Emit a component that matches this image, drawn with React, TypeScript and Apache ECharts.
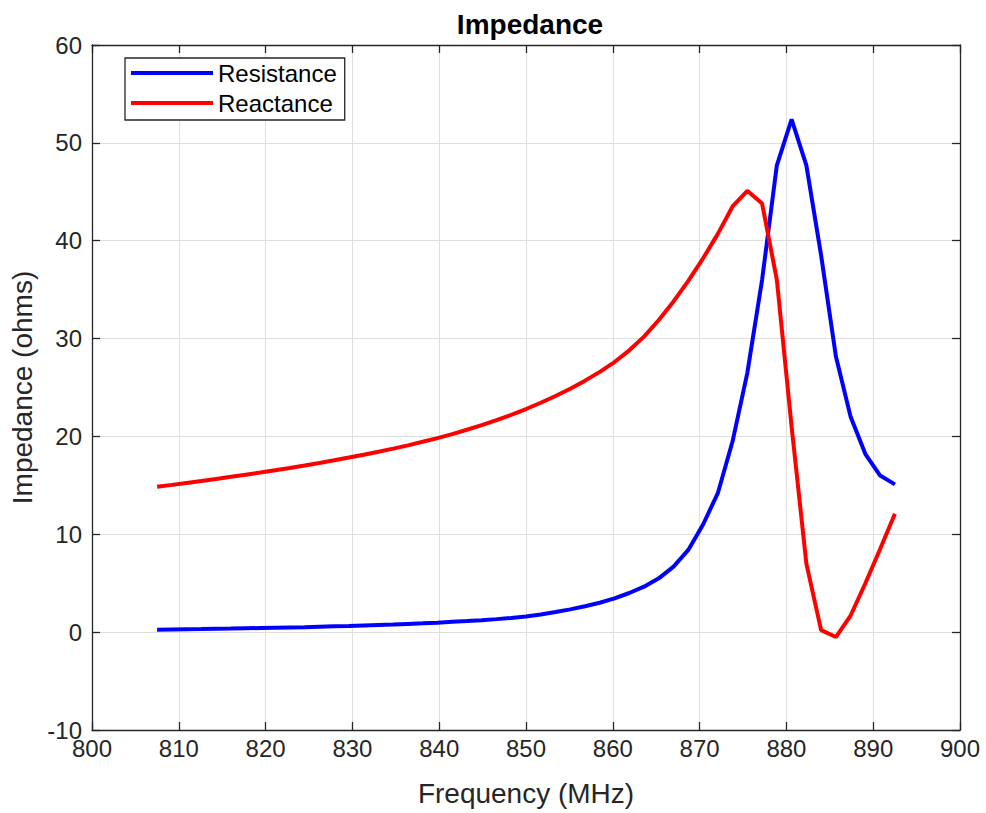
import React, { useEffect, useRef } from "react";
import * as echarts from "echarts";

const frequency = [
  807.5, 809.2, 810.9, 812.6, 814.3, 816.0, 817.7, 819.4, 821.1, 822.8,
  824.5, 826.2, 827.9, 829.6, 831.3, 833.0, 834.7, 836.4, 838.1, 839.8,
  841.5, 843.2, 844.9, 846.6, 848.3, 850.0, 851.7, 853.4, 855.1, 856.8,
  858.5, 860.2, 861.9, 863.6, 865.3, 867.0, 868.7, 870.4, 872.1, 873.8,
  875.5, 877.2, 878.9, 880.6, 882.3, 884.0, 885.7, 887.4, 889.1, 890.8,
  892.5,
];

const resistance = [
  0.25, 0.27, 0.29, 0.31, 0.34, 0.36, 0.39, 0.42, 0.45, 0.48,
  0.51, 0.55, 0.59, 0.63, 0.68, 0.73, 0.78, 0.84, 0.9, 0.97,
  1.05, 1.13, 1.22, 1.33, 1.45, 1.6, 1.8, 2.05, 2.33, 2.65,
  3.0, 3.45, 4.0, 4.65, 5.5, 6.7, 8.4, 11.0, 14.2, 19.5,
  26.5, 36.0, 47.7, 52.4, 47.7, 38.5, 28.2, 22.0, 18.2, 16.0,
  15.1,
];

const reactance = [
  14.86, 15.05, 15.25, 15.45, 15.66, 15.87, 16.09, 16.31, 16.54, 16.78,
  17.03, 17.29, 17.56, 17.84, 18.13, 18.43, 18.75, 19.09, 19.45, 19.83,
  20.24, 20.68, 21.15, 21.66, 22.21, 22.8, 23.44, 24.13, 24.88, 25.7,
  26.6, 27.6, 28.8, 30.2, 31.9, 33.8, 35.9, 38.2, 40.7, 43.5,
  45.1, 43.8, 36.0, 21.0, 7.0, 0.2, -0.5, 1.7, 5.0, 8.5,
  12.1,
];

const seriesNames = ["Resistance", "Reactance"];
const xTicks = { min: 800, max: 900, interval: 10 };
const yTicks = { min: -10, max: 60, interval: 10 };

const FONT = "'Liberation Sans', Arial, Helvetica, sans-serif";
const INK = "#262626";

export default function App() {
  const ref = useRef<HTMLDivElement>(null);

  useEffect(() => {
    if (!ref.current) return;
    const chart = echarts.init(ref.current, undefined, { renderer: "svg" });

    const axisCommon = {
      axisLine: { show: true, onZero: false, lineStyle: { color: INK, width: 1.3 } },
      axisTick: { show: true, inside: true, length: 8, lineStyle: { color: INK, width: 1.3 } },
    };

    chart.setOption({
      animation: false,
      backgroundColor: "#ffffff",
      title: {
        text: "Impedance",
        left: 525,
        top: 5,
        textAlign: "center",
        textStyle: { fontFamily: FONT, fontSize: 28, fontWeight: "bold", color: "#000000" },
      },
      grid: { left: 92, right: 26, top: 45, bottom: 83, containLabel: false },
      legend: {
        data: seriesNames,
        orient: "vertical",
        left: 125,
        top: 58,
        padding: [0, 8, 2, 6],
        itemGap: 0,
        itemWidth: 82,
        itemHeight: 4,
        icon: "rect",
        borderColor: INK,
        borderWidth: 1.3,
        backgroundColor: "#ffffff",
        textStyle: { fontFamily: FONT, fontSize: 24, color: "#000000", lineHeight: 30 },
      },
      xAxis: [
        {
          type: "value",
          ...xTicks,
          position: "bottom",
          name: "Frequency (MHz)",
          nameLocation: "middle",
          nameGap: 49,
          nameTextStyle: { fontFamily: FONT, fontSize: 28, color: INK },
          ...axisCommon,
          axisLabel: { show: true, margin: 6, fontFamily: FONT, fontSize: 24, color: INK },
          splitLine: { show: true, lineStyle: { color: "#dedede", width: 1 } },
        },
        {
          type: "value",
          ...xTicks,
          position: "top",
          ...axisCommon,
          axisLabel: { show: false },
          splitLine: { show: false },
        },
      ],
      yAxis: [
        {
          type: "value",
          ...yTicks,
          position: "left",
          name: "Impedance (ohms)",
          nameLocation: "middle",
          nameGap: 56,
          nameTextStyle: { fontFamily: FONT, fontSize: 28, color: INK },
          ...axisCommon,
          axisLabel: { show: true, margin: 10, fontFamily: FONT, fontSize: 24, color: INK },
          splitLine: { show: true, lineStyle: { color: "#dedede", width: 1 } },
        },
        {
          type: "value",
          ...yTicks,
          position: "right",
          ...axisCommon,
          axisLabel: { show: false },
          splitLine: { show: false },
        },
      ],
      series: [
        {
          name: seriesNames[0],
          type: "line",
          xAxisIndex: 0,
          yAxisIndex: 0,
          data: frequency.map((f, i) => [f, resistance[i]]),
          showSymbol: false,
          lineStyle: { color: "#0000ff", width: 4 },
          itemStyle: { color: "#0000ff" },
          z: 3,
        },
        {
          name: seriesNames[1],
          type: "line",
          xAxisIndex: 0,
          yAxisIndex: 0,
          data: frequency.map((f, i) => [f, reactance[i]]),
          showSymbol: false,
          lineStyle: { color: "#ff0000", width: 4 },
          itemStyle: { color: "#ff0000" },
          z: 4,
        },
      ],
    });

    return () => chart.dispose();
  }, []);

  return (
    <div
      ref={ref}
      style={{ position: "fixed", left: 0, top: 0, width: 986, height: 813, background: "#fff" }}
    />
  );
}
